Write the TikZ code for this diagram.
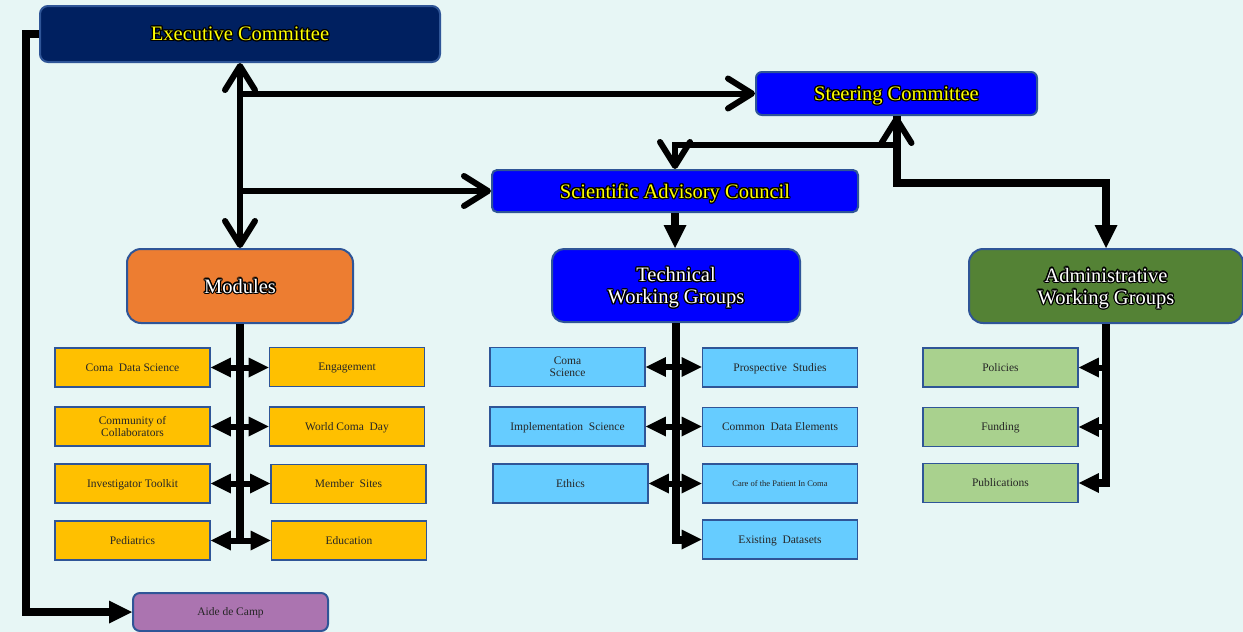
\documentclass[tikz,border=0pt]{standalone}
\usepackage{fontspec}
\setmainfont{Liberation Serif}
\usepackage{contour}
\usetikzlibrary{arrows.meta}
\contourlength{1.2pt}
\definecolor{bgcolor}{HTML}{E7F6F5}
\definecolor{navy}{HTML}{002060}
\definecolor{edgeblue}{HTML}{2F5597}
\definecolor{brightblue}{HTML}{0000FF}
\definecolor{modorange}{HTML}{ED7D31}
\definecolor{admgreen}{HTML}{548235}
\definecolor{modyellow}{HTML}{FFC000}
\definecolor{techblue}{HTML}{66CCFF}
\definecolor{admlight}{HTML}{A9D18E}
\definecolor{aidepurple}{HTML}{AB74B0}
\definecolor{glowyellow}{HTML}{FFFF00}
\newcommand{\headSize}[0]{\fontsize{20.5}{22}\selectfont}
\newcommand{\itemSize}[0]{\fontsize{11.5}{12}\selectfont}
\newcommand{\tinySize}[0]{\fontsize{8.5}{10}\selectfont}
\newcommand{\glowText}[1]{\contour{black}{#1}}
\newcommand{\thinLine}[0]{6pt}
\newcommand{\thickLine}[0]{8pt}

\begin{document}
\begin{tikzpicture}[x=1pt, y=-1pt]
  \tikzset{head/.style={draw=edgeblue, line width=2pt, rounded corners=#1, align=center, inner sep=0pt, text depth=0pt, font=\headSize},
           item/.style={draw=edgeblue, line width=1.8pt, minimum width=155pt, minimum height=39pt, inner sep=0pt, align=center, text depth=0pt, font=\itemSize, text=black!85},
           openHead/.tip={Straight Barb[length=24pt, width=30pt, round]},
           fillHead/.tip={Triangle[length=23pt, width=23pt, line width=0pt]},
           smallHead/.tip={Triangle[length=20pt, width=20pt, line width=0pt]}}
  \fill[bgcolor] (0,0) rectangle (1243,632);
  \useasboundingbox (0,0) rectangle (1243,632);
  \node[head=8pt, fill=navy, text=glowyellow, minimum width=400pt, minimum height=56pt] (exec) at (240,34) {\glowText{Executive Committee}};
  \node[head=6pt, fill=brightblue, text=glowyellow, minimum width=281pt, minimum height=43pt] (steer) at (896.5,93.5) {\glowText{Steering Committee}};
  \node[head=5pt, fill=brightblue, text=glowyellow, minimum width=366pt, minimum height=42pt] (sac) at (675,191) {\glowText{Scientific Advisory Council}};
  \node[head=14pt, fill=modorange, text=white, minimum width=226pt, minimum height=74pt] (mod) at (240,286) {\glowText{Modules}};
  \node[head=12pt, fill=brightblue, text=white, minimum width=248pt, minimum height=73pt] (twg) at (676,285.5) {\glowText{Technical}\\\glowText{Working Groups}};
  \node[head=14pt, fill=admgreen, text=white, minimum width=274pt, minimum height=74pt] (awg) at (1106,286) {\glowText{Administrative}\\\glowText{Working Groups}};
  \node[head=7pt, fill=aidepurple, text=black!85, minimum width=195pt, minimum height=38pt, font=\itemSize] (aide) at (230.5,612) {Aide de Camp};
  \node[item, fill=modyellow] (mod-1-1) at (132.5,367.5) {Coma\ \ Data Science};
  \node[item, fill=modyellow] (mod-1-2) at (132.5,426.5) {Community of\\Collaborators};
  \node[item, fill=modyellow] (mod-1-3) at (132.5,483.5) {Investigator Toolkit};
  \node[item, fill=modyellow] (mod-1-4) at (132.5,540.5) {Pediatrics};
  \node[item, fill=modyellow] (mod-2-1) at (347,367) {Engagement};
  \node[item, fill=modyellow] (mod-2-2) at (347,426.5) {World Coma\ \ Day};
  \node[item, fill=modyellow] (mod-2-3) at (348.5,484) {Member\ \ Sites};
  \node[item, fill=modyellow] (mod-2-4) at (349,540.5) {Education};
  \node[item, fill=techblue] (twg-1-1) at (567.5,367) {Coma\\Science};
  \node[item, fill=techblue] (twg-1-2) at (567.5,426.5) {Implementation\ \ Science};
  \node[item, fill=techblue] (twg-1-3) at (570.5,483.5) {Ethics};
  \node[item, fill=techblue] (twg-2-1) at (780,367.5) {Prospective\ \ Studies};
  \node[item, fill=techblue] (twg-2-2) at (780,427) {Common\ \ Data Elements};
  \node[item, fill=techblue, font=\tinySize] (twg-2-3) at (780,483.5) {Care of the Patient In Coma};
  \node[item, fill=techblue] (twg-2-4) at (780,539.5) {Existing\ \ Datasets};
  \node[item, fill=admlight] (awg-1-1) at (1000.5,367.5) {Policies};
  \node[item, fill=admlight] (awg-1-2) at (1000.5,427) {Funding};
  \node[item, fill=admlight] (awg-1-3) at (1000.5,483) {Publications};
  \coordinate (steer-join) at ([yshift=-29pt]steer.south);
  \draw[line width=\thickLine, -fillHead] (exec.west) -- ++(-13,0) |- (aide.west);
  \draw[line width=\thinLine, openHead-openHead] (exec.south) -- (mod.north);
  \draw[line width=\thinLine, -openHead] (exec.south |- steer.west) -- (steer.west);
  \draw[line width=\thinLine, -openHead] (exec.south |- sac.west) -- (sac.west);
  \draw[line width=\thickLine, -fillHead] (steer.south) -- ++(0,67) -| (awg.north);
  \draw[line width=\thinLine, openHead-openHead] (steer.south) -- (steer-join) -| (sac.north);
  \draw[line width=\thickLine, -fillHead] (sac.south) -- (sac.south |- twg.north);
  \draw[line width=\thickLine] (mod.south) -- ([yshift=-3pt]mod.south |- mod-1-4.east);
  \draw[line width=\thinLine, smallHead-smallHead] (mod-1-1.east) -- (mod-1-1.east -| mod-2-1.west);
  \draw[line width=\thinLine, smallHead-smallHead] (mod-1-2.east) -- (mod-1-2.east -| mod-2-2.west);
  \draw[line width=\thinLine, smallHead-smallHead] (mod-1-3.east) -- (mod-1-3.east -| mod-2-3.west);
  \draw[line width=\thinLine, smallHead-smallHead] (mod-1-4.east) -- (mod-1-4.east -| mod-2-4.west);
  \draw[line width=\thickLine, -smallHead] (twg.south) |- (twg-2-4.west);
  \draw[line width=\thinLine, smallHead-smallHead] (twg-1-1.east) -- (twg-1-1.east -| twg-2-1.west);
  \draw[line width=\thinLine, smallHead-smallHead] (twg-1-2.east) -- (twg-1-2.east -| twg-2-2.west);
  \draw[line width=\thinLine, smallHead-smallHead] (twg-1-3.east) -- (twg-1-3.east -| twg-2-3.west);
  \draw[line width=\thickLine, -smallHead] (awg.south) |- (awg-1-3.east);
  \draw[line width=\thinLine, -smallHead] (awg.south |- awg-1-1.east) -- (awg-1-1.east);
  \draw[line width=\thinLine, -smallHead] (awg.south |- awg-1-2.east) -- (awg-1-2.east);
\end{tikzpicture}
\end{document}
